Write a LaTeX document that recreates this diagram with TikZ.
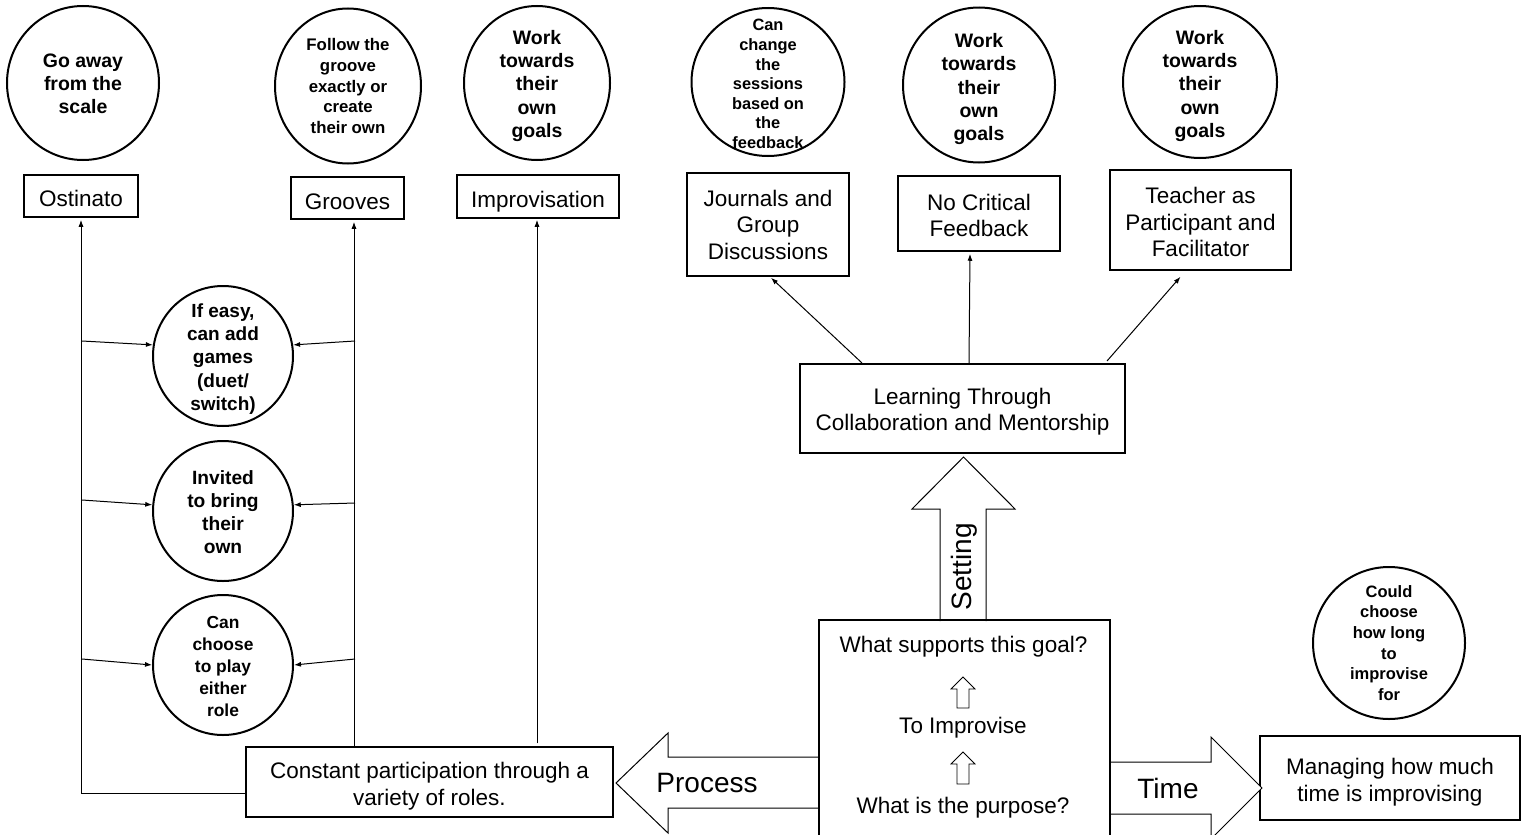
\documentclass[tikz,border=0pt]{standalone}
\usepackage{fontspec}
\setmainfont{Liberation Sans}
\usetikzlibrary{shapes.geometric,arrows.meta,calc}
\begin{document}
\begin{tikzpicture}[x=1pt,y=-1pt,
  box/.style={draw, line width=1.5pt, inner sep=0pt},
  btx/.style={inner sep=0pt, align=center, font=\fontsize{22.5}{26.5}\selectfont},
  bub/.style={draw, ellipse, line width=2pt, inner sep=0pt},
  tA/.style={inner sep=0pt, align=center, font=\fontsize{19.5}{23.2}\selectfont\bfseries},
  tB/.style={inner sep=0pt, align=center, font=\fontsize{16.8}{20.6}\selectfont\bfseries},
  con/.style={line width=1pt, -{Latex[length=7pt,width=5pt]}},
  blk/.style={draw, line width=1pt, fill=white},
  big/.style={inner sep=0pt, font=\fontsize{28}{32}\selectfont},
  txt/.style={inner sep=0pt, font=\fontsize{22.5}{26.5}\selectfont},
]
\clip (0,0) rectangle (1526,835);
\fill[white] (0,0) rectangle (1526,835);

% top circles
\node[bub, minimum width=152pt, minimum height=154pt] (c1) at (83,83) {};
\node[tA] (c1t) at ($(c1)+(0,1)$) {Go away\\from the\\scale};
\node[bub, minimum width=146pt, minimum height=155pt] (c2) at (348,86) {};
\node[tB] (c2t) at (c2) {Follow the\\groove\\exactly or\\create\\their own};
\node[bub, minimum width=146pt, minimum height=154pt] (c3) at (537,83) {};
\node[tA] (c3t) at ($(c3)+(0,3)$) {Work\\towards\\their\\own\\goals};
\node[bub, minimum width=153pt, minimum height=148pt] (c4) at (768,82) {};
\node[inner sep=0pt, align=center, font=\fontsize{16.4}{19.6}\selectfont\bfseries] (c4t) at ($(c4)+(0,2)$) {Can\\change\\the\\sessions\\based on\\the\\feedback};
\node[bub, minimum width=152pt, minimum height=155pt] (c5) at (979,85) {};
\node[tA] (c5t) at ($(c5)+(0,4)$) {Work\\towards\\their\\own\\goals};
\node[bub, minimum width=154pt, minimum height=152pt] (c6) at (1200,82) {};
\node[tA] (c6t) at ($(c6)+(0,4)$) {Work\\towards\\their\\own\\goals};
\node[bub, minimum width=152pt, minimum height=152pt] (c7) at (1389,643) {};
\node[inner sep=0pt, align=center, font=\fontsize{16.5}{20.7}\selectfont\bfseries] (c7t) at (c7) {Could\\choose\\how long\\to\\improvise\\for};

% middle circles
\node[bub, minimum width=140pt, minimum height=140pt] (m1) at (223,356) {};
\node[inner sep=0pt, align=center, font=\fontsize{19}{23.3}\selectfont\bfseries] (m1t) at ($(m1)+(0,3)$) {If easy,\\can add\\games\\(duet/\\switch)};
\node[bub, minimum width=140pt, minimum height=140pt] (m2) at (223,511) {};
\node[inner sep=0pt, align=center, font=\fontsize{19.2}{23}\selectfont\bfseries] (m2t) at ($(m2)+(0,1)$) {Invited\\to bring\\their\\own};
\node[bub, minimum width=140pt, minimum height=140pt] (m3) at (223,665) {};
\node[inner sep=0pt, align=center, font=\fontsize{17.4}{22}\selectfont\bfseries] (m3t) at ($(m3)+(0,2)$) {Can\\choose\\to play\\either\\role};

% boxes
\node[box, minimum width=114pt, minimum height=42pt] (ost) at (81,196) {};
\node[btx] (ostt) at ($(ost)+(0,2)$) {Ostinato};
\node[box, minimum width=113pt, minimum height=42pt] (grv) at (347.5,198) {};
\node[btx] (grvt) at ($(grv)+(0,4)$) {Grooves};
\node[box, minimum width=162pt, minimum height=43pt] (imp) at (538,196.5) {};
\node[btx] (impt) at ($(imp)+(0,5)$) {Improvisation};
\node[box, minimum width=162pt, minimum height=103pt] (jou) at (768,224.5) {};
\node[btx] (jout) at (jou) {Journals and\\Group\\Discussions};
\node[box, minimum width=162pt, minimum height=75pt] (ncf) at (979,213.5) {};
\node[btx] (ncft) at ($(ncf)+(0,2)$) {No Critical\\Feedback};
\node[box, minimum width=181pt, minimum height=100pt] (tea) at (1200.5,220) {};
\node[btx] (teat) at ($(tea)+(0,2)$) {Teacher as\\Participant and\\Facilitator};
\node[box, minimum width=325pt, minimum height=89pt] (lrn) at (962.5,408.5) {};
\node[btx] (lrnt) at ($(lrn)+(0,3)$) {Learning Through\\Collaboration and Mentorship};
\node[box, minimum width=367pt, minimum height=70pt] (cpt) at (429.5,782) {};
\node[btx] (cptt) at ($(cpt)+(0,4)$) {Constant participation through a\\variety of roles.};
\node[box, minimum width=260pt, minimum height=84pt] (mng) at (1390,778) {};
\node[btx] (mngt) at ($(mng)+(0,4)$) {Managing how much\\time is improvising};

% block arrows
\draw[blk] (940,621) -- (940,509) -- (912,509) -- (963.5,457) -- (1015,509) -- (986,509) -- (986,621);
\node[big, rotate=90] (set) at (964,567) {Setting};
\draw[blk] (818,757) -- (668,757) -- (668,733) -- (616,783) -- (668,833) -- (668,808) -- (818,808);
\node[big] (pro) at (707,783) {Process};
\draw[blk] (1110,762) -- (1211,762) -- (1211,737) -- (1262,788) -- (1211,839) -- (1211,814) -- (1110,814);
\node[big] (tim) at (1168,788) {Time};

% central box
\draw[line width=1.5pt] (819,850) -- (819,620) -- (1110,620) -- (1110,850);
\node[txt] (q1) at (963.5,647) {What supports this goal?};
\node[txt] (q2) at (963,728) {To Improvise};
\node[txt] (q3) at (963,808) {What is the purpose?};
\draw[line width=0.8pt] (957,708) -- (957,689) -- (951,689) -- (963,677) -- (975,689) -- (969,689) -- (969,708) -- cycle;
\draw[line width=0.8pt] (957,784) -- (957,764) -- (951,764) -- (963,752) -- (975,764) -- (969,764) -- (969,784) -- cycle;

% left structure connectors
\coordinate (pL) at (81,793);
\coordinate (xG) at (354,0);
\coordinate (xI) at (537,0);
\draw[con] (cpt.west |- pL) -- (pL) -- ($(ost.south)+(0,2)$);
\draw[con] (xG |- cpt.north) -- ($(xG |- grv.south)+(0,2)$);
\draw[con] ($(xI |- cpt.north)+(0,-3)$) -- ($(xI |- imp.south)+(0,1)$);

\coordinate (l1) at (82,341);
\coordinate (r1) at (355,341);
\coordinate (l2) at (82,500);
\coordinate (r2) at (355,503);
\coordinate (l3) at (82,659);
\coordinate (r3) at (355,659);
\draw[con] (l1) -- (m1.171);
\draw[con] (r1) -- (m1.9);
\draw[con] (l2) -- (m2.175);
\draw[con] (r2) -- (m2.5);
\draw[con] (l3) -- (m3.180);
\draw[con] (r3) -- (m3.0);

% learning connectors
\coordinate (s1) at (862,363);
\coordinate (s2) at (969,363);
\coordinate (s3) at (1107,361);
\draw[con] (s1) -- ($(jou.south)+(3,1)$);
\draw[con] (s2) -- ($(ncf.south)+(-9,2)$);
\draw[con] (s3) -- ($(tea.south)+(-20,6)$);
\end{tikzpicture}
\end{document}
